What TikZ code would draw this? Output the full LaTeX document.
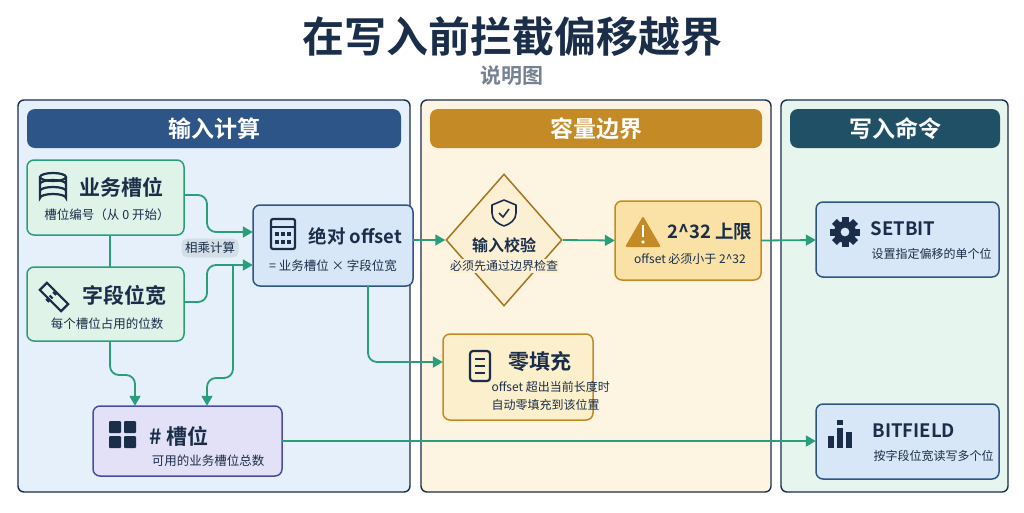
\documentclass[tikz,border=0pt]{standalone}
\usepackage{fontspec}
\setmainfont{Noto Sans CJK SC}[BoldFont={Noto Sans CJK SC Bold}]
\usetikzlibrary{arrows.meta,shapes.geometric,calc}
\definecolor{navy}{HTML}{1A2E4A}
\definecolor{gline}{HTML}{2A9D7A}
\definecolor{bblue}{HTML}{2D5587}
\definecolor{gold}{HTML}{C48A25}
\definecolor{teal}{HTML}{1F5066}
\definecolor{p1}{HTML}{E6F0FA}
\definecolor{p2}{HTML}{FDF5E2}
\definecolor{p3}{HTML}{E6F6EE}
\definecolor{gfill}{HTML}{DFF3E8}
\definecolor{bfill}{HTML}{D8E7F8}
\definecolor{vfill}{HTML}{E3E1F7}
\definecolor{yfill}{HTML}{FAE2A6}
\definecolor{ofill}{HTML}{FCEFCB}
\definecolor{dfill}{HTML}{FCF0D4}
\definecolor{lfill}{HTML}{D3DEE6}
\begin{document}
\begin{tikzpicture}[x=1pt,y=-1pt,
  panel/.style={draw=navy,line width=1.4pt,rounded corners=6pt},
  header/.style={rounded corners=8pt,text=white,font=\bfseries\fontsize{23}{27}\selectfont},
  box/.style={line width=1.5pt,rounded corners=7pt},
  ttl/.style={font=\bfseries\fontsize{21}{24}\selectfont,text=navy,anchor=west},
  sttl/.style={font=\bfseries\fontsize{18.5}{22}\selectfont,text=navy,anchor=west},
  sub/.style={font=\fontsize{12.5}{15}\selectfont,text=navy},
  ssub/.style={font=\fontsize{12}{14}\selectfont,text=navy},
  con/.style={draw=gline,line width=1.8pt,rounded corners=9pt},
  arr/.style={con,-{Triangle[length=10pt,width=11pt]}}]
\useasboundingbox (0,0) rectangle (1024,512);
\fill[white] (0,0) rectangle (1024,512);
\node[font=\bfseries\fontsize{42}{48}\selectfont,text=navy] (title) at (512,37) {在写入前拦截偏移越界};
\node[font=\bfseries\fontsize{21}{25}\selectfont,text=navy!60] (subt) at (512,76) {说明图};
% panels
\draw[panel,fill=p1] (18,100) rectangle (410,492);
\draw[panel,fill=p2] (421,100) rectangle (771,492);
\draw[panel,fill=p3] (781,100) rectangle (1008,492);
\node[header,fill=bblue,minimum width=374pt,minimum height=39pt] (h1) at (214,128.5) {输入计算};
\node[header,fill=gold,minimum width=332pt,minimum height=39pt] (h2) at (596,128.5) {容量边界};
\node[header,fill=teal,minimum width=210pt,minimum height=39pt] (h3) at (895,128.5) {写入命令};
% boxes
\draw[box,draw=gline,fill=gfill] (27,160) rectangle (184,235);
\node (b1) at (105.5,197.5) [minimum width=157pt,minimum height=75pt] {};
\node[ttl] at (76,187) {业务槽位};
\node[sub] at (107,215) {槽位编号（从 0 开始）};
\draw[box,draw=gline,fill=gfill] (27,267) rectangle (184,341);
\node (b2) at (105.5,304) [minimum width=157pt,minimum height=74pt] {};
\node[ttl] at (79,295) {字段位宽};
\node[sub] at (107,324) {每个槽位占用的位数};
\draw[box,draw=bblue,fill=bfill] (253,205) rectangle (413,286);
\node (b3) at (333,245.5) [minimum width=160pt,minimum height=81pt] {};
\node[sttl] at (305,236) {绝对 offset};
\node[sub] at (333,266) {= 业务槽位 × 字段位宽};
\draw[box,draw=blue!45!black!70,fill=vfill] (93,406) rectangle (282,476);
\node (b4) at (187.5,441) [minimum width=189pt,minimum height=70pt] {};
\node[ttl] at (146,436) {\# 槽位};
\node[sub] at (208,461) {可用的业务槽位总数};
\node[diamond,draw=gold!85!black,line width=1.5pt,fill=dfill,minimum width=116pt,minimum height=132pt,inner sep=0pt] (d) at (504,240) {};
\node[font=\bfseries\fontsize{16}{19}\selectfont,text=navy] at (504,245) {输入校验};
\node[ssub,fill=dfill,inner sep=1pt] at (504,266) {必须先通过边界检查};
\draw[box,draw=gold,fill=yfill] (615,201) rectangle (761,280);
\node (b5) at (688,240.5) [minimum width=146pt,minimum height=79pt] {};
\node[sttl] at (664,232) {2\textasciicircum32 上限};
\node[ssub] at (690,259) {offset 必须小于 2\textasciicircum32};
\draw[box,draw=gold,fill=ofill] (443,334) rectangle (593,420);
\node (b6) at (518,377) [minimum width=150pt,minimum height=86pt] {};
\node[ttl] at (505,362) {零填充};
\node[ssub,anchor=west] at (488,387) {offset 超出当前长度时};
\node[ssub,anchor=west] at (488,405) {自动零填充到该位置};
\draw[box,draw=bblue,fill=bfill] (816,202) rectangle (999,277);
\node (b7) at (907.5,239.5) [minimum width=183pt,minimum height=75pt] {};
\node[sttl] at (867,229) {SETBIT};
\node[ssub,anchor=west] at (868,254) {设置指定偏移的单个位};
\draw[box,draw=bblue,fill=bfill] (816,404) rectangle (999,479);
\node (b8) at (907.5,441.5) [minimum width=183pt,minimum height=75pt] {};
\node[sttl] at (869,431) {BITFIELD};
\node[ssub,anchor=west] at (870,456) {按字段位宽读写多个位};
\node[fill=lfill,rounded corners=5pt,font=\fontsize{12.5}{15}\selectfont,text=navy,inner sep=3.5pt] (lab) at (210,248) {相乘计算};
% icons
\begin{scope}[navy,line width=2.2pt]
 \draw (40,177) -- (40,198) arc[start angle=180,end angle=360,x radius=13,y radius=4] -- (66,177);
 \draw (53,177) ellipse[x radius=13,y radius=4];
 \draw (40,184) arc[start angle=180,end angle=360,x radius=13,y radius=4];
 \draw (40,191) arc[start angle=180,end angle=360,x radius=13,y radius=4];
 \draw[rotate around={-45:(54,297)}] (39,292) rectangle (69,302);
 \foreach \t in {-7,-2,3} \draw ($(54,297)+(\t*0.707,-\t*0.707)$) -- ++(-3,-3);
 \draw[rounded corners=2pt] (271,219) rectangle (295,249);
 \draw (271,227) -- (295,227);
 \foreach \xx in {277,283,289} \foreach \yy in {234,242} \fill (\xx-2,\yy-2) rectangle ++(4,4);
 \draw[line width=1.6pt,line join=round] (504,200) -- (516,205) -- (516,213) .. controls (516,220) and (510,224) .. (504,226) .. controls (498,224) and (492,220) .. (492,213) -- (492,205) -- cycle;
 \draw[line width=1.6pt] (499,213) -- (503,217) -- (509,209);
 \draw[rounded corners=3pt] (470,351) rectangle (490,381);
 \foreach \yy in {359,366,373} \draw[line width=1.8pt] (475,\yy) -- (485,\yy);
 \fill[rounded corners=1pt] (109,421) rectangle ++(12,12);
 \fill[rounded corners=1pt] (124,421) rectangle ++(12,12);
 \fill[rounded corners=1pt] (109,436) rectangle ++(12,12);
 \fill[rounded corners=1pt] (124,436) rectangle ++(12,12);
 \fill (828,436) rectangle ++(6,12); \fill (837,428) rectangle ++(6,20); \fill (846,432) rectangle ++(6,16); \fill (837,420) rectangle ++(6,5);
 \fill[even odd rule] (845,232) circle[radius=11] (845,232) circle[radius=4.5];
 \foreach \a in {0,45,...,315} \fill[rotate around={\a:(845,232)}] (841.5,217) rectangle (848.5,223);
\end{scope}
\fill[gold,rounded corners=2pt] (643,216) -- (661,247) -- (625,247) -- cycle;
\fill[white] (641.6,225) rectangle (644.4,237);
\fill[white] (643,242) circle[radius=1.8];
% connectors
\coordinate (j1) at (233,265);
\draw[arr] (b1.east|-0,195) -- (207,195) -- (207,232) -- (b3.west|-0,232);
\draw[arr] (b2.east|-0,302) -- (207,302) -- (207,265) -- (b3.west|-0,265);
\draw[con] (b1.south-|110,0) -- (b2.north-|110,0);
\draw[arr] (b2.south-|110,0) -- (110,375) -- (135,375) -- (b4.north-|135,0);
\draw[arr] (j1) -- (233,378) -- (207,378) -- (b4.north-|207,0);
\draw[arr] (b3.east|-0,240) -- (d.west);
\draw[arr] (b3.south-|368,0) -- (368,362) -- (b6.west|-0,362);
\draw[arr] (d.east) -- (b5.west);
\draw[arr] (b5.east) -- (b7.west|-0,240);
\draw[arr] (b4.east) -- (b8.west|-0,441);
\end{tikzpicture}
\end{document}
